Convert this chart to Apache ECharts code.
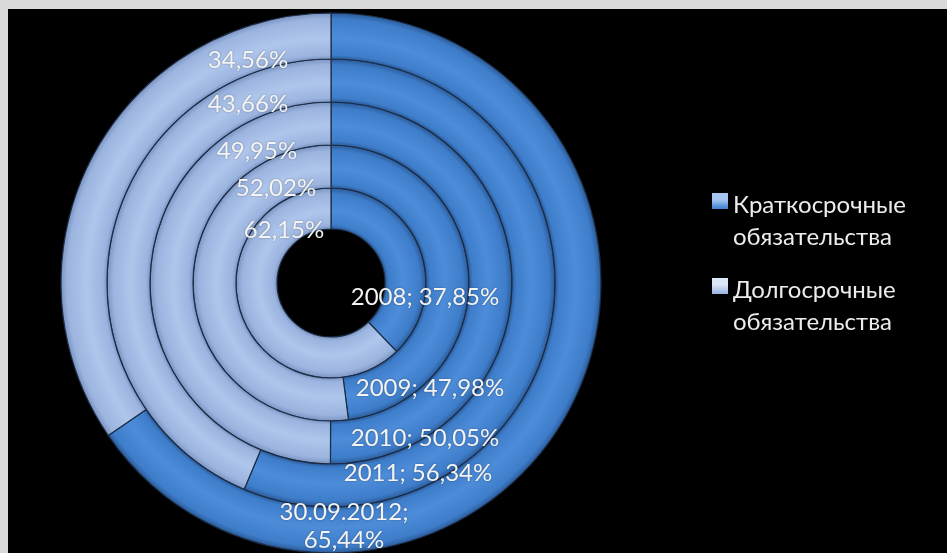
<!DOCTYPE html>
<html>
<head>
<meta charset="utf-8">
<script src="https://cdn.jsdelivr.net/npm/echarts@6/dist/echarts.min.js"></script>
<style>
  html, body { margin: 0; padding: 0; background: #d9d9d9; width: 947px; height: 553px; overflow: hidden; }
  #chart { position: absolute; left: 8px; top: 9px; width: 939px; height: 544px; }
</style>
</head>
<body>
<div id="chart"></div>
<script>
// Liabilities structure by period, inner ring = first period
const periods = ['2008', '2009', '2010', '2011', '30.09.2012'];
const shortTerm = [37.85, 47.98, 50.05, 56.34, 65.44];
const longTerm = [62.15, 52.02, 49.95, 43.66, 34.56];
const itemNames = ['Краткосрочные обязательства', 'Долгосрочные обязательства'];

// Ring geometry (px): hole radius and the outer radius of each ring
const CX = 323, CY = 274;
const HOLE = 54;
const RING_OUTER = [95, 138, 181, 224, 270];

// Label anchors relative to the pie centre: [short-term, long-term] per ring
const LABEL_OFFSETS = [
  [[94, 14], [-47, -53]],
  [[99, 105], [-55, -95]],
  [[94, 155], [-74, -132]],
  [[87, 190], [-83, -179]],
  [[13, 243], [-83, -223]]
];

const FONT = 'Lato, "Open Sans", "DejaVu Sans", sans-serif';

const PALETTE = {
  dark:  { edge: '#2b5b99', mid: '#3e7dca', hi: '#4d8cd8' },
  light: { edge: '#7a93c0', mid: '#9bb4df', hi: '#afc6ec' }
};

// Bevel look: darker at both edges of the ring, lighter across the middle
function bevel(pal, ri, ro) {
  const f = r => Math.min(1, Math.max(0, r / ro));
  return new echarts.graphic.RadialGradient(CX, CY, ro, [
    { offset: f(ri), color: pal.edge },
    { offset: f(ri + 4), color: pal.mid },
    { offset: f(ri + (ro - ri) * 0.45), color: pal.hi },
    { offset: f(ro - 6), color: pal.mid },
    { offset: 1, color: pal.edge }
  ], true);
}

const fmt = v => v.toFixed(2).replace('.', ',') + '%';

const series = periods.map((period, i) => {
  const ri = i === 0 ? HOLE : RING_OUTER[i - 1];
  const ro = RING_OUTER[i];
  return {
    type: 'pie',
    name: period,
    center: [CX, CY],
    radius: [ri, ro],
    startAngle: 90,
    clockwise: true,
    avoidLabelOverlap: false,
    silent: true,
    itemStyle: { borderColor: '#1c2c45', borderWidth: 1.2 },
    label: {
      show: true,
      position: 'inside',
      color: '#f4f4f4',
      fontFamily: FONT,
      fontSize: 24,
      lineHeight: 28,
      textShadowColor: 'rgba(0,0,0,0.35)',
      textShadowBlur: 2
    },
    labelLine: { show: false },
    labelLayout: params => {
      const o = LABEL_OFFSETS[params.seriesIndex][params.dataIndex];
      return { x: CX + o[0], y: CY + o[1], align: 'center', verticalAlign: 'middle' };
    },
    data: [
      {
        name: itemNames[0],
        value: shortTerm[i],
        itemStyle: { color: bevel(PALETTE.dark, ri, ro) },
        label: {
          formatter: p => p.seriesName + ';' + (p.seriesName.length > 4 ? '\n' : ' ') + fmt(p.value)
        }
      },
      {
        name: itemNames[1],
        value: longTerm[i],
        itemStyle: { color: bevel(PALETTE.light, ri, ro) },
        label: { formatter: p => fmt(p.value) }
      }
    ]
  };
});

// Legend marker: square on the first text line (tall transparent box keeps it there)
const MARK = 'path://M0,8H16V24H0Z M0,63.9H0.01V64H0Z';
const markFill = (top, mid, bot) => new echarts.graphic.LinearGradient(0, 0, 0, 1, [
  { offset: 0.125, color: top },
  { offset: 0.25, color: mid },
  { offset: 0.375, color: bot }
]);

const chart = echarts.init(document.getElementById('chart'), null, { renderer: 'canvas' });
chart.setOption({
  backgroundColor: '#000000',
  animation: false,
  legend: {
    orient: 'vertical',
    left: 704,
    top: 180,
    padding: 0,
    icon: MARK,
    itemWidth: 16,
    itemHeight: 64,
    itemGap: 21,
    selectedMode: false,
    itemStyle: { borderWidth: 0, borderColor: 'transparent' },
    formatter: name => name.replace(' ', '\n'),
    textStyle: { color: '#ececec', fontFamily: FONT, fontSize: 24, lineHeight: 32 },
    data: [
      { name: itemNames[0], itemStyle: { color: markFill('#a4c6f0', '#4f8bd6', '#3a73bd'), borderWidth: 0 } },
      { name: itemNames[1], itemStyle: { color: markFill('#dce7f8', '#a3bce6', '#8ca6d2'), borderWidth: 0 } }
    ]
  },
  series: series
});
</script>
</body>
</html>
